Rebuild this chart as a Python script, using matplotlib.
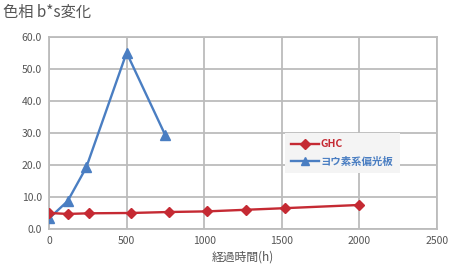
import numpy as np
import matplotlib
matplotlib.use("Agg")
import matplotlib.pyplot as plt
from matplotlib.lines import Line2D

plt.rcParams['font.family'] = ['Noto Sans CJK JP', 'DejaVu Sans']

# data
ghc_hours = [0, 120, 260, 530, 770, 1020, 1270, 1520, 2000]
ghc_values = [5.0, 4.7, 4.9, 5.0, 5.3, 5.5, 6.0, 6.5, 7.5]
iodine_hours = [0, 120, 240, 500, 750]
iodine_values = [3.3, 8.7, 19.2, 55.0, 29.2]

x_ticks = [0, 500, 1000, 1500, 2000, 2500]
y_ticks = [0, 10, 20, 30, 40, 50, 60]

RED = '#c52a33'
BLUE = '#4a7ec2'
GRID = '#bcbcbc'
TEXT = '#555555'

fig = plt.figure(figsize=(4.51, 2.72), dpi=100)
ax = fig.add_axes([49 / 451, 1 - 229 / 272, 388 / 451, 192.3 / 272])

ax.plot(iodine_hours, iodine_values, color=BLUE, lw=1.7, marker='^', ms=7, zorder=4)
ax.plot(ghc_hours, ghc_values, color=RED, lw=1.7, marker='D', ms=5, zorder=5)

ax.set_xlim(0, 2500)
ax.set_ylim(0, 60)
ax.set_xticks(x_ticks)
ax.set_yticks(y_ticks)
ax.set_yticklabels(['%.1f' % v for v in y_ticks])
ax.grid(True, color=GRID, lw=1.3)
ax.set_axisbelow(True)
for s in ax.spines.values():
    s.set_color(GRID)
    s.set_linewidth(1.3)
ax.tick_params(length=0, labelsize=7.5, colors=TEXT, pad=5)
ax.set_xlabel('経過時間(h)', fontsize=8.5, color=TEXT, labelpad=3)

fig.text(3 / 451, 1 - 12 / 272, '色相 b*s変化', fontsize=11, color=TEXT, va='center', ha='left')

handles = [Line2D([], [], color=RED, lw=1.7, marker='D', ms=5),
           Line2D([], [], color=BLUE, lw=1.7, marker='^', ms=6)]
leg = ax.legend(handles, ['GHC', 'ヨウ素系偏光板'], loc='upper left',
                bbox_to_anchor=((280 - 49) / 388, 1 - (128 - 36.7) / 192.3),
                frameon=True, fancybox=False, framealpha=1, facecolor='#f4f4f4',
                edgecolor='none', handlelength=2.6, handletextpad=0.2,
                borderpad=0.6, labelspacing=0.7, prop={'size': 7.5, 'weight': 'bold'})
leg.get_texts()[0].set_color(RED)
leg.get_texts()[1].set_color(BLUE)

fig.savefig('out.png', dpi=100)
